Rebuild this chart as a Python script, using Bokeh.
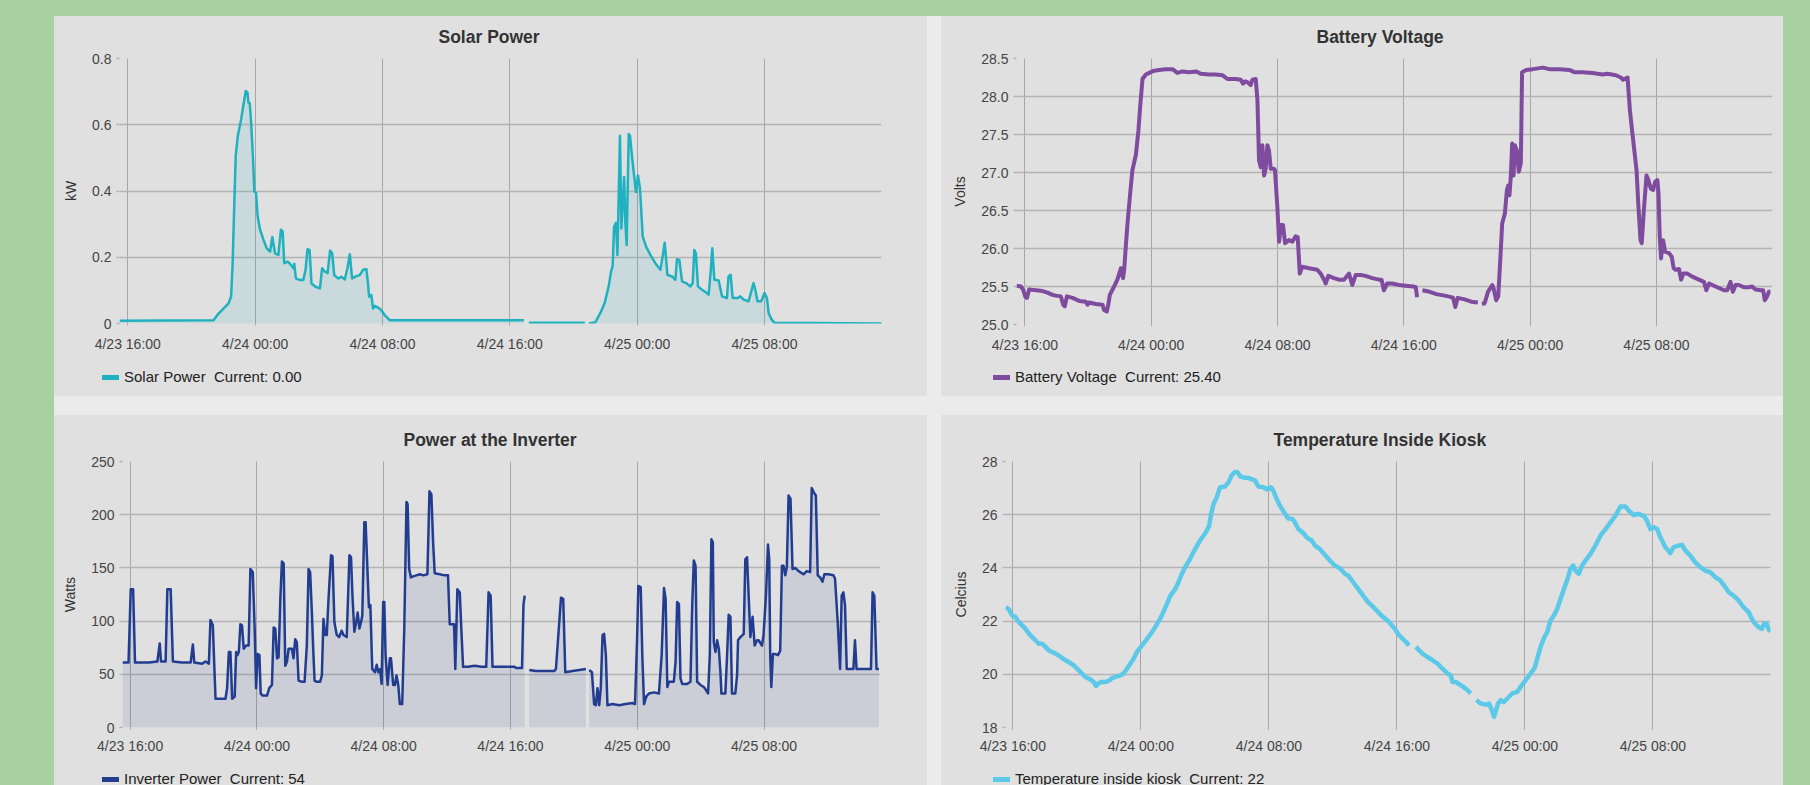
import math
from bokeh.plotting import figure
from bokeh.models import Range1d, FixedTicker, Spacer, Div
from bokeh.layouts import row, column
from bokeh.embed import file_html
from bokeh.resources import INLINE

nan = float("nan")

# ---------------- data (hours after 4/23 16:00) ----------------
x_ticks = [0, 8, 16, 24, 32, 40]
x_tick_labels = ["4/23 16:00", "4/24 00:00", "4/24 08:00", "4/24 16:00", "4/25 00:00", "4/25 08:00"]

solar_hours = [
    -0.52, 5.39, 5.70, 6.01, 6.33, 6.49, 6.58, 6.70, 6.78, 6.91, 7.12, 7.29, 7.41, 7.52, 7.58, 7.66, 7.75,
    7.87, 7.95, 8.06, 8.16, 8.31, 8.52, 8.73, 8.94, 9.08, 9.25, 9.46, 9.62, 9.73, 9.83, 10.04, 10.25, 10.40,
    10.46, 10.56, 10.81, 11.02, 11.17, 11.29, 11.42, 11.54, 11.80, 12.07, 12.21, 12.38, 12.55, 12.71, 12.84,
    12.97, 13.22, 13.42, 13.63, 13.80, 13.95, 14.09, 14.36, 14.57, 14.78, 14.99, 15.09, 15.16, 15.30, 15.41,
    15.51, 15.72, 15.93, 16.14, 16.45, 24.88, nan,
    25.19, 28.71, nan,
    28.96, 29.38, 29.69, 29.96, 30.21, 30.38, 30.46, 30.55, 30.67, 30.76, 30.92, 31.01, 31.18, 31.26, 31.34,
    31.47, 31.55, 31.68, 31.82, 31.93, 32.05, 32.18, 32.35, 32.56, 32.83, 33.14, 33.46, 33.60, 33.73, 33.90,
    34.19, 34.40, 34.50, 34.65, 34.82, 35.07, 35.34, 35.49, 35.59, 35.69, 35.82, 36.07, 36.38, 36.49, 36.62,
    36.72, 36.85, 37.12, 37.33, 37.64, 37.74, 37.87, 38.00, 38.33, 38.48, 38.69, 39.00, 39.17, 39.31, 39.42,
    39.56, 39.79, 39.88, 40.00, 40.15, 40.26, 40.42, 40.63, 47.37]
solar_kw = [
    0.008, 0.010, 0.030, 0.045, 0.061, 0.081, 0.172, 0.374, 0.505, 0.566, 0.616, 0.667, 0.702, 0.697, 0.667,
    0.665, 0.606, 0.495, 0.399, 0.394, 0.323, 0.283, 0.253, 0.227, 0.217, 0.261, 0.212, 0.207, 0.283, 0.278,
    0.182, 0.187, 0.177, 0.167, 0.180, 0.136, 0.131, 0.131, 0.162, 0.224, 0.222, 0.121, 0.111, 0.106, 0.167,
    0.157, 0.152, 0.220, 0.212, 0.146, 0.136, 0.141, 0.133, 0.167, 0.209, 0.136, 0.143, 0.146, 0.162, 0.164,
    0.121, 0.081, 0.086, 0.045, 0.053, 0.048, 0.040, 0.025, 0.010, 0.010, nan,
    0.002, 0.002, nan,
    0.0, 0.004, 0.032, 0.062, 0.112, 0.162, 0.172, 0.292, 0.304, 0.207, 0.567, 0.287, 0.442, 0.302, 0.237,
    0.572, 0.567, 0.502, 0.442, 0.397, 0.447, 0.407, 0.262, 0.232, 0.207, 0.182, 0.162, 0.202, 0.244, 0.147,
    0.142, 0.132, 0.194, 0.192, 0.127, 0.122, 0.112, 0.122, 0.222, 0.212, 0.112, 0.102, 0.092, 0.087, 0.157,
    0.227, 0.132, 0.130, 0.082, 0.077, 0.142, 0.147, 0.077, 0.077, 0.082, 0.072, 0.067, 0.097, 0.122, 0.102,
    0.067, 0.067, 0.077, 0.092, 0.077, 0.032, 0.014, 0.002, 0.0]

battery_hours = [
    -0.53, -0.25, -0.11, 0.02, 0.13, 0.27, 0.70, 1.12, 1.43, 1.75, 1.96, 2.28, 2.43, 2.53, 2.66, 3.02, 3.44,
    3.86, 3.97, 4.07, 4.49, 4.92, 5.02, 5.19, 5.30, 5.38, 5.65, 5.86, 6.08, 6.22, 6.29, 6.39, 6.50, 6.65, 6.81,
    7.03, 7.19, 7.30, 7.45, 7.66, 7.87, 8.19, 8.50, 8.92, 9.35, 9.66, 9.98, 10.40, 10.86, 11.14, 11.67, 12.09,
    12.51, 12.83, 13.35, 13.67, 13.82, 13.95, 14.09, 14.30, 14.41, 14.62, 14.73, 14.83, 14.94, 15.04, 15.15,
    15.25, 15.36, 15.46, 15.57, 15.78, 15.84, 15.99, 16.10, 16.22, 16.35, 16.48, 16.73, 16.94, 17.15, 17.28,
    17.41, 17.57, 18.00, 18.52, 18.73, 18.95, 19.05, 19.22, 19.58, 19.89, 20.21, 20.53, 20.74, 20.95, 21.27,
    21.58, 22.00, 22.43, 22.59, 22.74, 22.95, 23.27, 23.69, 24.11, 24.59, 24.76, 24.84, nan,
    25.18, 25.64, 26.06, 26.59, 27.01, 27.12, 27.26, 27.41, 27.85, 28.27, 28.69, nan,
    28.95, 29.12, 29.33, 29.60, 29.68, 29.85, 29.98, 30.11, 30.23, 30.40, 30.53, 30.61, 30.69, 30.78, 30.86,
    30.95, 31.03, 31.16, 31.28, 31.41, 31.49, 31.75, 32.17, 32.80, 33.22, 33.85, 34.48, 34.80, 35.33, 35.96,
    36.59, 36.91, 37.43, 37.75, 37.89, 38.17, 38.32, 38.48, 38.74, 38.86, 38.99, 39.07, 39.20, 39.37, 39.49,
    39.64, 39.79, 39.92, 40.06, 40.13, 40.21, 40.29, 40.42, 40.55, 40.80, 40.97, 41.09, 41.22, 41.43, 41.56,
    41.71, 41.96, 42.27, 42.69, 43.01, 43.16, 43.33, 43.64, 43.96, 44.27, 44.48, 44.69, 44.84, 45.01, 45.22,
    45.54, 45.85, 46.06, 46.27, 46.59, 46.76, 46.86, 47.01, 47.12, 47.22]
battery_volts = [
    25.51, 25.50, 25.46, 25.37, 25.35, 25.46, 25.45, 25.44, 25.42, 25.39, 25.38, 25.37, 25.26, 25.24, 25.37,
    25.35, 25.31, 25.30, 25.26, 25.29, 25.27, 25.26, 25.19, 25.17, 25.28, 25.39, 25.50, 25.59, 25.74, 25.61,
    25.72, 26.02, 26.33, 26.68, 27.03, 27.23, 27.55, 27.86, 28.23, 28.29, 28.31, 28.34, 28.35, 28.36, 28.36,
    28.31, 28.33, 28.32, 28.33, 28.30, 28.29, 28.29, 28.28, 28.23, 28.23, 28.22, 28.17, 28.20, 28.19, 28.15,
    28.22, 28.23, 27.95, 27.16, 27.07, 27.36, 26.96, 27.05, 27.36, 27.29, 27.05, 27.05, 27.03, 26.55, 26.09,
    26.31, 26.31, 26.07, 26.11, 26.09, 26.16, 26.15, 25.67, 25.76, 25.74, 25.72, 25.67, 25.59, 25.54, 25.64,
    25.61, 25.59, 25.59, 25.67, 25.52, 25.65, 25.65, 25.64, 25.61, 25.59, 25.59, 25.45, 25.54, 25.54, 25.52,
    25.51, 25.50, 25.49, 25.36, nan,
    25.45, 25.43, 25.40, 25.38, 25.36, 25.35, 25.23, 25.35, 25.33, 25.30, 25.29, nan,
    25.27, 25.28, 25.43, 25.52, 25.48, 25.32, 25.37, 25.85, 26.33, 26.46, 26.77, 26.83, 26.70, 26.96, 27.38,
    26.96, 27.36, 27.29, 27.01, 27.12, 28.32, 28.35, 28.36, 28.38, 28.36, 28.36, 28.35, 28.32, 28.32, 28.31,
    28.29, 28.30, 28.28, 28.25, 28.22, 28.25, 27.82, 27.51, 27.03, 26.55, 26.11, 26.07, 26.50, 26.96, 26.90,
    26.79, 26.77, 26.88, 26.90, 26.72, 26.15, 25.87, 26.11, 25.96, 25.94, 25.89, 25.74, 25.72, 25.73, 25.59,
    25.67, 25.67, 25.63, 25.59, 25.56, 25.45, 25.54, 25.51, 25.48, 25.45, 25.45, 25.56, 25.43, 25.52, 25.52,
    25.49, 25.49, 25.50, 25.46, 25.45, 25.45, 25.32, 25.37, 25.43, 25.43]

inverter_hours = [
    -0.48, -0.10, 0.04, 0.19, 0.31, 0.78, 1.19, 1.72, 1.87, 1.95, 2.24, 2.35, 2.56, 2.70, 3.29, 3.82, 3.96,
    4.05, 4.55, 4.76, 4.97, 5.07, 5.22, 5.39, 6.02, 6.12, 6.23, 6.33, 6.44, 6.60, 6.69, 6.77, 6.86, 6.96, 7.06,
    7.17, 7.32, 7.48, 7.59, 7.74, 7.86, 7.95, 8.05, 8.16, 8.24, 8.36, 8.64, 8.78, 8.95, 9.06, 9.16, 9.27, 9.37,
    9.48, 9.58, 9.69, 9.79, 9.90, 10.00, 10.21, 10.31, 10.42, 10.52, 10.63, 10.84, 11.01, 11.15, 11.26, 11.36,
    11.47, 11.57, 11.64, 11.78, 11.99, 12.10, 12.20, 12.31, 12.41, 12.52, 12.68, 12.77, 12.89, 13.04, 13.19,
    13.35, 13.46, 13.67, 13.84, 13.94, 14.03, 14.15, 14.23, 14.36, 14.47, 14.57, 14.65, 14.78, 14.86, 14.99,
    15.07, 15.16, 15.28, 15.45, 15.56, 15.66, 15.77, 15.87, 15.97, 16.04, 16.12, 16.25, 16.39, 16.46, 16.60,
    16.71, 16.81, 16.92, 17.02, 17.17, 17.30, 17.44, 17.51, 17.61, 17.72, 17.86, 18.07, 18.28, 18.49, 18.76,
    18.89, 19.01, 19.12, 19.22, 19.54, 19.85, 20.06, 20.17, 20.31, 20.44, 20.52, 20.65, 20.80, 20.90, 21.01,
    21.32, 21.74, 22.16, 22.47, 22.62, 22.75, 22.87, 23.42, 23.84, 24.26, 24.36, 24.73, 24.82, 24.90, nan,
    25.19, 25.61, 26.24, 26.77, 26.87, 27.19, 27.33, 27.46, 27.92, 28.34, 28.76, nan,
    28.97, 29.14, 29.28, 29.39, 29.49, 29.60, 29.70, 29.81, 29.91, 30.02, 30.12, 30.44, 30.86, 31.27, 31.69,
    31.86, 31.99, 32.07, 32.22, 32.32, 32.43, 32.57, 32.74, 33.06, 33.37, 33.54, 33.69, 33.79, 33.90, 34.00,
    34.31, 34.42, 34.52, 34.63, 34.73, 34.84, 35.15, 35.36, 35.47, 35.57, 35.68, 35.78, 35.99, 36.20, 36.35,
    36.47, 36.58, 36.68, 36.77, 36.83, 36.94, 37.04, 37.15, 37.25, 37.31, 37.56, 37.67, 37.77, 37.88, 37.98,
    38.19, 38.30, 38.36, 38.51, 38.72, 38.82, 38.93, 39.03, 39.14, 39.28, 39.41, 39.56, 39.66, 39.87, 39.97,
    40.12, 40.25, 40.33, 40.39, 40.46, 40.56, 40.71, 40.88, 41.02, 41.13, 41.23, 41.34, 41.44, 41.55, 41.67,
    41.80, 41.97, 42.18, 42.49, 42.70, 42.91, 43.01, 43.14, 43.27, 43.39, 43.54, 43.69, 43.81, 44.06, 44.38,
    44.48, 44.65, 44.80, 44.90, 45.01, 45.11, 45.22, 45.64, 45.74, 45.84, 46.16, 46.58, 46.75, 46.85, 46.96,
    47.10, 47.25]
inverter_watts = [
    61, 61, 130, 130, 61, 61, 61, 62, 79, 62, 62, 130, 130, 62, 61, 61, 78,
    61, 60, 62, 60, 101, 96, 27, 27, 37, 71, 71, 27, 29, 71, 68, 71, 97, 96,
    74, 77, 77, 149, 146, 93, 37, 69, 68, 32, 30, 30, 37, 40, 94, 93, 65, 66,
    121, 156, 154, 58, 62, 74, 74, 65, 83, 80, 44, 43, 43, 77, 149, 146,
    108, 68, 44, 43, 43, 49, 102, 87, 87, 121, 162, 161, 99, 87, 85,
    91, 87, 85, 162, 160, 124, 90, 96, 108, 93, 99, 105, 193, 193, 143,
    113, 115, 55, 52, 59, 52, 55, 41, 118, 118, 68, 40, 65, 65, 40,
    40, 49, 40, 22, 22, 93, 212, 210, 149, 141, 142, 143, 144, 143, 144,
    222, 219, 174, 145, 144, 143, 143, 97, 97, 97, 55, 130, 127, 93, 57,
    57, 58, 57, 57, 127, 124, 57, 57, 57, 57, 56, 56, 115, 124, nan,
    54, 53, 53, 53, 55, 122, 121, 52, 53, 54, 55, nan,
    54, 52, 22, 21, 37, 21, 37, 87, 88, 68, 21, 22, 21, 22, 23,
    22, 83, 133, 132, 68, 22, 29, 32, 33, 32, 68, 131, 121, 38, 43,
    43, 62, 118, 116, 46, 41, 41, 43, 115, 157, 152, 43, 40, 38, 35,
    32, 68, 177, 174, 80, 71, 82, 74, 52, 32, 32, 68, 106, 104, 32,
    32, 49, 82, 85, 88, 158, 160, 124, 85, 104, 77, 82, 82, 77, 87,
    124, 172, 158, 68, 38, 69, 69, 68, 72, 152, 152, 143, 151, 218, 215,
    149, 150, 147, 144, 147, 146, 225, 221, 218, 143, 141, 137, 144, 144, 143,
    140, 99, 55, 124, 127, 115, 55, 55, 82, 55, 55, 55, 55, 127, 124,
    55, 55]

temp_hours = [
    -0.46, -0.25, -0.04, 0.17, 0.37, 0.58, 0.79, 1.00, 1.21, 1.41, 1.62, 1.83, 2.04, 2.25, 2.56, 2.87, 3.08,
    3.28, 3.49, 3.80, 4.12, 4.32, 4.53, 4.84, 5.05, 5.20, 5.32, 5.53, 5.78, 5.99, 6.20, 6.40, 6.72, 6.92, 7.13,
    7.34, 7.55, 7.75, 8.00, 8.27, 8.59, 8.90, 9.21, 9.42, 9.63, 9.83, 10.15, 10.35, 10.56, 10.77, 11.08, 11.39,
    11.70, 11.91, 12.12, 12.27, 12.39, 12.54, 12.74, 12.95, 13.26, 13.47, 13.68, 13.89, 14.05, 14.20, 14.41,
    14.72, 14.93, 15.14, 15.34, 15.65, 15.86, 16.13, 16.28, 16.49, 16.69, 17.01, 17.21, 17.48, 17.63, 17.84,
    18.15, 18.36, 18.67, 18.88, 19.19, 19.50, 19.81, 20.12, 20.44, 20.75, 20.96, 21.27, 21.58, 21.89, 22.20,
    22.52, 22.83, 23.14, 23.45, 23.87, 24.15, 24.46, 24.77, nan,
    25.19, 25.39, 25.60, 25.91, 26.22, 26.54, 26.85, 27.16, 27.37, 27.47, 27.68, 27.99, 28.30, 28.62, nan,
    28.97, 29.24, 29.55, 29.76, 29.90, 30.07, 30.17, 30.32, 30.49, 30.69, 30.90, 31.21, 31.53, 31.73, 32.05,
    32.36, 32.61, 32.77, 32.98, 33.19, 33.40, 33.60, 33.81, 34.02, 34.23, 34.44, 34.64, 34.85, 35.02, 35.16,
    35.37, 35.58, 35.79, 36.10, 36.41, 36.72, 37.04, 37.35, 37.66, 37.97, 38.28, 38.49, 38.80, 39.11, 39.43,
    39.63, 39.84, 40.05, 40.26, 40.47, 40.78, 41.09, 41.30, 41.61, 41.82, 42.03, 42.34, 42.65, 42.96, 43.27,
    43.58, 43.90, 44.21, 44.52, 44.73, 45.04, 45.35, 45.66, 45.98, 46.18, 46.39, 46.60, 46.81, 46.95, 47.12,
    47.22, 47.33]
temp_celsius = [
    22.53, 22.44, 22.21, 22.15, 21.96, 21.84, 21.71, 21.53, 21.40, 21.28, 21.15, 21.15, 21.03, 20.90, 20.81,
    20.71, 20.61, 20.53, 20.46, 20.34, 20.15, 20.03, 19.90, 19.81, 19.71, 19.56, 19.65, 19.71, 19.71, 19.75,
    19.86, 19.90, 19.96, 20.03, 20.21, 20.40, 20.59, 20.84, 21.03, 21.24, 21.49, 21.78, 22.09, 22.36, 22.65,
    22.94, 23.21, 23.46, 23.78, 24.03, 24.34, 24.71, 25.03, 25.21, 25.40, 25.59, 26.03, 26.40, 26.65, 27.03,
    27.06, 27.21, 27.49, 27.61, 27.59, 27.44, 27.40, 27.38, 27.34, 27.28, 27.06, 27.03, 26.96, 27.03, 26.90,
    26.59, 26.34, 26.03, 25.86, 25.84, 25.71, 25.46, 25.31, 25.15, 25.03, 24.84, 24.71, 24.49, 24.28, 24.09,
    23.99, 23.78, 23.71, 23.46, 23.21, 22.96, 22.71, 22.53, 22.34, 22.15, 22.00, 21.71, 21.46, 21.28, 21.09, nan,
    21.03, 20.90, 20.78, 20.65, 20.53, 20.40, 20.21, 20.03, 19.96, 19.71, 19.71, 19.59, 19.46, 19.28, nan,
    19.03, 18.90, 18.86, 18.90, 18.71, 18.40, 18.59, 18.90, 19.03, 18.96, 19.09, 19.28, 19.34, 19.53, 19.78,
    20.03, 20.24, 20.59, 21.03, 21.36, 21.59, 22.03, 22.21, 22.46, 22.84, 23.21, 23.53, 23.96, 24.09, 23.90,
    23.78, 24.09, 24.28, 24.53, 24.84, 25.21, 25.46, 25.71, 25.96, 26.31, 26.31, 26.15, 25.99, 26.03, 25.96,
    25.78, 25.46, 25.53, 25.46, 25.15, 24.78, 24.56, 24.78, 24.84, 24.86, 24.65, 24.46, 24.21, 24.03, 23.90,
    23.84, 23.65, 23.53, 23.28, 23.09, 22.96, 22.78, 22.53, 22.34, 22.09, 21.90, 21.78, 21.71, 21.90, 21.90,
    21.71, 21.59]

solar_ticks = [0, 0.2, 0.4, 0.6, 0.8]
solar_tick_labels = ["0", "0.2", "0.4", "0.6", "0.8"]
battery_ticks = [25.0, 25.5, 26.0, 26.5, 27.0, 27.5, 28.0, 28.5]
battery_tick_labels = ["25.0", "25.5", "26.0", "26.5", "27.0", "27.5", "28.0", "28.5"]
inverter_ticks = [0, 50, 100, 150, 200, 250]
inverter_tick_labels = ["0", "50", "100", "150", "200", "250"]
temp_ticks = [18, 20, 22, 24, 26, 28]
temp_tick_labels = ["18", "20", "22", "24", "26", "28"]

# ---------------- styling ----------------
GREEN = "#a9d0a1"
CONTAINER = "#ebebeb"
PANEL = "#e0e0e0"
HGRID = "#b3b3b3"
VGRID = "#a6a6a6"
FONT = "Liberation Sans"


def segments(xs, ys):
    segs, cx, cy = [], [], []
    for x, y in zip(xs, ys):
        if math.isnan(x) or math.isnan(y):
            if cx:
                segs.append((cx, cy))
            cx, cy = [], []
        else:
            cx.append(x)
            cy.append(y)
    if cx:
        segs.append((cx, cy))
    return segs


def make_chart(cfg):
    w, h = cfg["size"]
    bl, br, bt, bb = cfg["borders"]
    xs, ys = cfg["x"], cfg["y"]
    p = figure(width=w, height=h, output_backend="svg", toolbar_location=None,
               x_range=Range1d(xs[0], 47.35), y_range=Range1d(cfg["yticks"][0], cfg["yticks"][-1]),
               min_border_left=bl, min_border_right=br, min_border_top=bt, min_border_bottom=bb,
               background_fill_color=PANEL, border_fill_color=PANEL, outline_line_color=None)
    p.xaxis.ticker = FixedTicker(ticks=x_ticks)
    p.xaxis.major_label_overrides = dict(zip(x_ticks, x_tick_labels))
    p.yaxis.ticker = FixedTicker(ticks=cfg["yticks"])
    p.yaxis.major_label_overrides = dict(zip(cfg["yticks"], cfg["ylabels"]))

    p.xgrid.grid_line_color = VGRID
    p.xgrid.grid_line_width = 1
    p.ygrid.grid_line_color = HGRID
    p.ygrid.grid_line_width = 1.5

    p.xaxis.axis_line_color = None
    p.xaxis.major_tick_out = 2
    p.xaxis.major_tick_in = 0
    p.xaxis.major_tick_line_color = VGRID
    p.xaxis.minor_tick_line_color = None
    p.xaxis.major_label_standoff = cfg["xstandoff"]
    p.xaxis.major_label_text_font = FONT
    p.xaxis.major_label_text_font_size = "14px"
    p.xaxis.major_label_text_color = "#444444"

    p.yaxis.axis_line_color = None
    p.yaxis.major_tick_out = 3
    p.yaxis.major_tick_in = 0
    p.yaxis.major_tick_line_color = HGRID
    p.yaxis.major_tick_line_width = 1.5
    p.yaxis.minor_tick_line_color = None
    p.yaxis.major_label_standoff = 5
    p.yaxis.major_label_text_font = FONT
    p.yaxis.major_label_text_font_size = "14px"
    p.yaxis.major_label_text_color = "#444444"
    p.yaxis.axis_label = cfg["ylabel"]
    p.yaxis.axis_label_text_font = FONT
    p.yaxis.axis_label_text_font_size = "14px"
    p.yaxis.axis_label_text_font_style = "normal"
    p.yaxis.axis_label_text_color = "#333333"
    p.yaxis.axis_label_standoff = 10

    if cfg.get("fill"):
        for sx, sy in segments(xs, ys):
            p.varea(x=sx, y1=[cfg["yticks"][0]] * len(sx), y2=sy,
                    fill_color=cfg["color"], fill_alpha=0.11)
    p.line(x=xs, y=ys, line_color=cfg["color"], line_width=cfg["lw"], line_join="round")

    p.title.text = cfg["title"]
    p.title.align = "left"
    p.title.offset = cfg["title_offset"]
    p.title.vertical_align = "top"
    p.title.standoff = 20
    p.title.text_font = FONT
    p.title.text_font_style = "bold"
    p.title.text_font_size = "17.5px"
    p.title.text_color = "#333333"

    # legend strip under the chart: coloured swatch + series name + current value
    lw_, lh_ = cfg["legend_size"]
    pad_left, pad_top = cfg["legend_pad"]
    name, current = cfg["legend"]
    html = (
        '<div style="padding:%dpx 0 0 %dpx;font-family:\'Liberation Sans\';font-size:15px;'
        'line-height:17px;color:#222222;white-space:nowrap;">'
        '<span style="display:inline-block;width:17px;height:5px;background:%s;'
        'vertical-align:middle;margin-right:5px;position:relative;top:-1px;"></span>'
        '%s&nbsp;&nbsp;%s</div>' % (pad_top, pad_left, cfg["color"], name, current)
    )
    q = Div(text=html, width=lw_, height=lh_, margin=(0, 0, 0, 0),
            styles={"background-color": PANEL})
    return column(p, q, styles={"background-color": PANEL})


p_solar = make_chart(dict(
    size=(873, 344), borders=(65, 46, 42, 37), x=solar_hours, y=solar_kw,
    yticks=solar_ticks, ylabels=solar_tick_labels, ylabel="kW", color="#1fb1bf", lw=2.5, fill=True,
    title="Solar Power", title_offset=319, xstandoff=10,
    legend=("Solar Power", "Current: 0.00"), legend_size=(873, 36), legend_pad=(48, 8)))

p_batt = make_chart(dict(
    size=(842, 344), borders=(75, 11, 42, 36), x=battery_hours, y=battery_volts,
    yticks=battery_ticks, ylabels=battery_tick_labels, ylabel="Volts", color="#7f4b9e", lw=4,
    title="Battery Voltage", title_offset=300, xstandoff=10,
    legend=("Battery Voltage", "Current: 25.40"), legend_size=(842, 36), legend_pad=(52, 8)))

p_inv = make_chart(dict(
    size=(873, 345), borders=(68, 47, 46, 33), x=inverter_hours, y=inverter_watts,
    yticks=inverter_ticks, ylabels=inverter_tick_labels, ylabel="Watts", color="#223d8f", lw=2.5, fill=True,
    title="Power at the Inverter", title_offset=281, xstandoff=8,
    legend=("Inverter Power", "Current: 54"), legend_size=(873, 40), legend_pad=(48, 10)))

p_temp = make_chart(dict(
    size=(842, 345), borders=(64, 13, 46, 33), x=temp_hours, y=temp_celsius,
    yticks=temp_ticks, ylabels=temp_tick_labels, ylabel="Celcius", color="#5cc9e8", lw=4.5,
    title="Temperature Inside Kiosk", title_offset=268, xstandoff=8,
    legend=("Temperature inside kiosk", "Current: 22"), legend_size=(842, 40), legend_pad=(52, 10)))

container = column(
    row(p_solar, Spacer(width=14, height=380), p_batt),
    Spacer(width=1729, height=19),
    row(p_inv, Spacer(width=14, height=385), p_temp),
    styles={"background-color": CONTAINER},
)

page = column(Spacer(width=10, height=16), row(Spacer(width=54, height=10), container))

html_page = file_html(page, INLINE, title="Kiosk dashboard")
html_page = html_page.replace(
    "</head>", "<style>html,body{background:%s;overflow:hidden;}</style></head>" % GREEN, 1)
open("out.html", "w").write(html_page)
